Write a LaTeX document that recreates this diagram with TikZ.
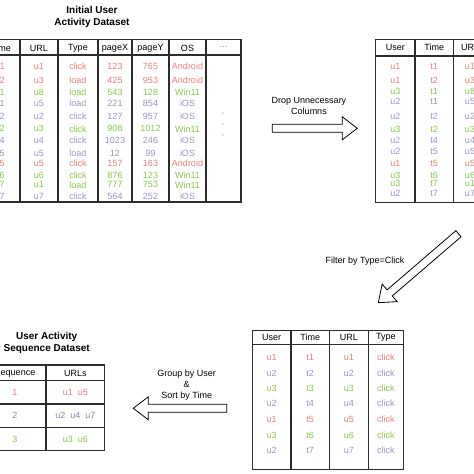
\documentclass[tikz,border=0pt]{standalone}
\usepackage{fontspec}
\setmainfont{Liberation Sans}
\usetikzlibrary{calc}

\definecolor{seqred}{RGB}{232,128,122}
\definecolor{seqgreen}{RGB}{138,200,78}
\definecolor{seqpurple}{RGB}{158,148,200}
\definecolor{seqgray}{RGB}{140,136,168}
\definecolor{gridline}{RGB}{45,45,45}

\tikzset{
  cell/.style={font=\fontsize{9}{10}\selectfont, inner sep=0pt},
  head/.style={cell, text=black},
  title/.style={font=\fontsize{10}{12}\selectfont\bfseries, align=center, inner sep=0pt},
  note/.style={font=\fontsize{9}{11}\selectfont, align=center, inner sep=0pt},
  frame/.style={draw=gridline, line width=1.1pt},
  hollowarrow/.style={draw=black, line width=0.8pt, fill=white, line join=miter}
}

% tail x, tail y, angle, length
\newcommand{\bigarrow}[4]{%
  \begin{scope}[shift={(#1,#2)}, rotate=#3]
    \draw[hollowarrow] (0,-4) -- (#4-15,-4) -- (#4-15,-11.5) -- (#4,0)
      -- (#4-15,11.5) -- (#4-15,4) -- (0,4) -- cycle;
  \end{scope}
}

\begin{document}
\begin{tikzpicture}[x=1pt, y=-1pt]
\useasboundingbox (0,0) rectangle (474,474);
\clip (0,0) rectangle (474,474);

% initial dataset
\node[title] (initTitle) at (92,17) {Initial User\\Activity Dataset};
\draw[frame] (-18,39.5) rectangle (241,202);
\draw[frame] (-18,55) -- (241,55);
\foreach \x in {20,58,98,132,169,206}
    \draw[frame] (\x,39.5) -- (\x,202);
\foreach \x/\h [count=\j] in {1/Time,39/URL,78/Type,115/pageX,150.5/pageY,187.5/OS}
    \node[head] (initH\j) at (\x,48) {\h};
\node[head, text=gray] (initHdots) at (223.5,47) {...};
\foreach \y/\c/\t/\u/\k/\px/\py/\os [count=\i] in {
    66.7/seqred/t1/u1/click/123/765/Android,
    80.5/seqred/t2/u3/load/425/953/Android,
    92.0/seqgreen/t1/u8/load/543/128/Win11,
    103.5/seqpurple/t1/u5/load/221/854/iOS,
    116.7/seqpurple/t2/u2/click/127/957/iOS,
    128.8/seqgreen/t2/u3/click/908/1012/Win11,
    140.6/seqpurple/t4/u4/click/1023/246/iOS,
    153.0/seqpurple/t5/u5/load/12/99/iOS,
    163.3/seqred/t5/u5/click/157/163/Android,
    175.6/seqgreen/t6/u6/click/876/123/Win11,
    184.8/seqgreen/t7/u1/load/777/753/Win11,
    196.0/seqpurple/t7/u7/click/564/252/iOS} {
    \node[cell, text=\c] (initT\i) at (1,\y) {\t};
    \node[cell, text=\c] (initU\i) at (39,\y) {\u};
    \node[cell, text=\c] (initK\i) at (78,\y) {\k};
    \node[cell, text=\c] (initX\i) at (115,\y) {\px};
    \node[cell, text=\c] (initY\i) at (150.5,\y) {\py};
    \node[cell, text=\c] (initO\i) at (187.5,\y) {\os};
}
\foreach \y in {113,124,135}
    \fill[gray] (223,\y) circle (0.7);

% reduced columns
\draw[frame] (375.7,39.5) rectangle (520,202.5);
\draw[frame] (375.7,56) -- (520,56);
\foreach \x in {415,453.3,491.6}
    \draw[frame] (\x,39.5) -- (\x,202.5);
\foreach \x/\h [count=\j] in {395.3/User,434.2/Time,470/URL}
    \node[head] (dropH\j) at (\x,47.5) {\h};
\foreach \y/\c/\us/\t/\u [count=\i] in {
    66.7/seqred/u1/t1/u1,
    80.2/seqred/u1/t2/u3,
    91.2/seqgreen/u3/t1/u8,
    101.5/seqpurple/u2/t1/u5,
    116.7/seqpurple/u2/t2/u2,
    129.2/seqgreen/u3/t2/u3,
    140.2/seqpurple/u2/t4/u4,
    151.7/seqpurple/u2/t5/u5,
    163.3/seqred/u1/t5/u5,
    175.0/seqgreen/u3/t6/u6,
    183.5/seqgreen/u3/t7/u1,
    193.6/seqpurple/u2/t7/u7} {
    \node[cell, text=\c] (dropS\i) at (395.3,\y) {\us};
    \node[cell, text=\c] (dropT\i) at (434.2,\y) {\t};
    \node[cell, text=\c] (dropU\i) at (470,\y) {\u};
}

% clicks only
\draw[frame] (252.3,330.7) rectangle (403.3,469.3);
\draw[frame] (252.3,344.3) -- (403.3,344.3);
\foreach \x in {291,329.3,368.3}
    \draw[frame] (\x,330.7) -- (\x,469.3);
\foreach \x/\h [count=\j] in {271.7/User,310.2/Time,348.8/URL,385.8/Type}
    \node[head] (clickH\j) at (\x,337.7) {\h};
\foreach \y/\c/\us/\t/\u [count=\i] in {
    357.3/seqred/u1/t1/u1,
    373.3/seqpurple/u2/t2/u2,
    388.3/seqgreen/u3/t3/u3,
    403.3/seqpurple/u2/t4/u4,
    419.3/seqred/u1/t5/u5,
    435.3/seqgreen/u3/t6/u6,
    450.0/seqpurple/u2/t7/u7} {
    \node[cell, text=\c] (clickS\i) at (271.7,\y) {\us};
    \node[cell, text=\c] (clickT\i) at (310.2,\y) {\t};
    \node[cell, text=\c] (clickU\i) at (348.8,\y) {\u};
    \node[cell, text=\c] (clickK\i) at (385.8,\y) {click};
}

% sequence dataset
\node[title] (seqTitle) at (46.7,342.5) {User Activity\\Sequence Dataset};
\draw[frame] (-16,365) rectangle (104.7,450.7);
\foreach \y in {380.7,404,427.3}
    \draw[frame] (-16,\y) -- (104.7,\y);
\draw[frame] (46,365) -- (46,450.7);
\node[head] (seqH1) at (15,373.3) {Sequence};
\node[head] (seqH2) at (75.3,373.3) {URLs};
\foreach \y/\c/\n/\u [count=\i] in {
    392.3/seqred/1/u1\ \ u5,
    415.7/seqgray/2/u2\ \ u4\ \ u7,
    439.0/seqgreen/3/u3\ \ u6} {
    \node[cell, text=\c] (seqN\i) at (15,\y) {\n};
    \node[cell, text=\c] (seqU\i) at (75.3,\y) {\u};
}

% steps
\bigarrow{272.3}{128.3}{0}{85}
\node[note] (dropNote) at (309,105.5) {Drop Unnecessary\\Columns};
\bigarrow{458.5}{233.7}{220.7}{105.8}
\node[note] (filterNote) at (365,261) {Filter by Type=Click};
\bigarrow{226.7}{408.3}{180}{93.4}
\node[note] (groupNote) at (186.7,385) {Group by User\\\&\\Sort by Time};
\end{tikzpicture}
\end{document}
